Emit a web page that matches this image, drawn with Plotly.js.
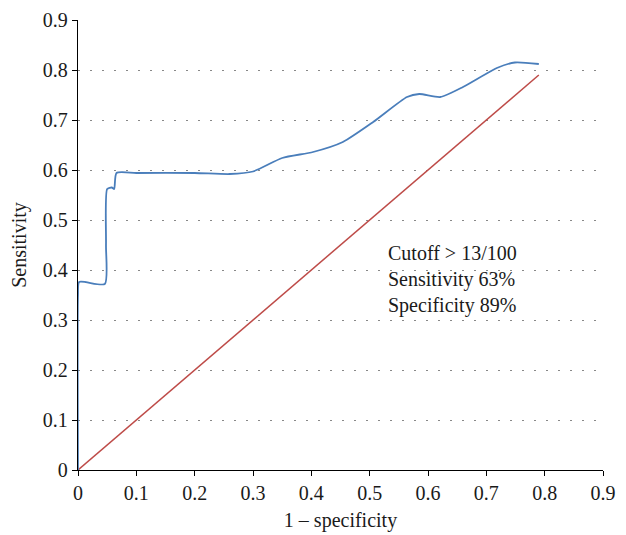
<!DOCTYPE html>
<html>
<head>
<meta charset="utf-8">
<script src="https://cdn.plot.ly/plotly-3.0.1.min.js"></script>
<style>html,body{margin:0;padding:0;background:#fff;}#chart{width:626px;height:535px;}</style>
</head>
<body>
<div id="chart"></div>
<script>
// ROC curve
const rocX = [0, 0, 0.002, 0.046, 0.048, 0.05, 0.058, 0.062, 0.066, 0.1, 0.2, 0.26, 0.3, 0.35, 0.403, 0.454, 0.506, 0.564, 0.585, 0.621, 0.66, 0.718, 0.749, 0.79];
const rocY = [0, 0.35, 0.376, 0.372, 0.45, 0.562, 0.565, 0.562, 0.594, 0.594, 0.594, 0.592, 0.597, 0.624, 0.636, 0.656, 0.696, 0.746, 0.752, 0.746, 0.766, 0.804, 0.815, 0.812];
// Reference diagonal
const refX = [0, 0.79];
const refY = [0, 0.79];
const tickVals = [0, 0.1, 0.2, 0.3, 0.4, 0.5, 0.6, 0.7, 0.8, 0.9];
const tickText = ["0", "0.1", "0.2", "0.3", "0.4", "0.5", "0.6", "0.7", "0.8", "0.9"];
const noteLines = ["Cutoff &gt; 13/100", "Sensitivity 63%", "Specificity 89%"];

const font = {family: "Liberation Serif, DejaVu Serif, serif", size: 20, color: "#1a1a1a"};

const traces = [
  {x: refX, y: refY, mode: "lines", line: {color: "#be4b48", width: 1.5}, hoverinfo: "skip"},
  {x: rocX, y: rocY, mode: "lines", line: {color: "#4a7ebb", width: 1.8, shape: "spline", smoothing: 0.6}, hoverinfo: "skip", cliponaxis: false}
];

const layout = {
  width: 626, height: 535,
  margin: {l: 78, r: 23, t: 20, b: 65},
  showlegend: false,
  paper_bgcolor: "#fff", plot_bgcolor: "#fff",
  font: font,
  xaxis: {
    range: [0, 0.9], tickvals: tickVals, ticktext: tickText,
    showgrid: false, zeroline: false,
    showline: true, linecolor: "#000", linewidth: 1.2,
    ticks: "outside", ticklen: 5, tickcolor: "#000",
    title: {text: "1 – specificity", font: font, standoff: 9}
  },
  yaxis: {
    range: [0, 0.9], tickvals: tickVals, ticktext: tickText,
    showgrid: true, gridcolor: "#888", gridwidth: 1, griddash: "2px,10px",
    zeroline: false,
    showline: true, linecolor: "#000", linewidth: 1.2,
    ticks: "outside", ticklen: 5, tickcolor: "#000",
    title: {text: "Sensitivity", font: font, standoff: 10}
  },
  annotations: [{
    x: 0.528, y: 0.46, xref: "x", yref: "y", xanchor: "left", yanchor: "top",
    text: noteLines.join("<br>"), showarrow: false, align: "left",
    font: font
  }]
};

Plotly.newPlot("chart", traces, layout, {displayModeBar: false, staticPlot: true});
</script>
</body>
</html>
